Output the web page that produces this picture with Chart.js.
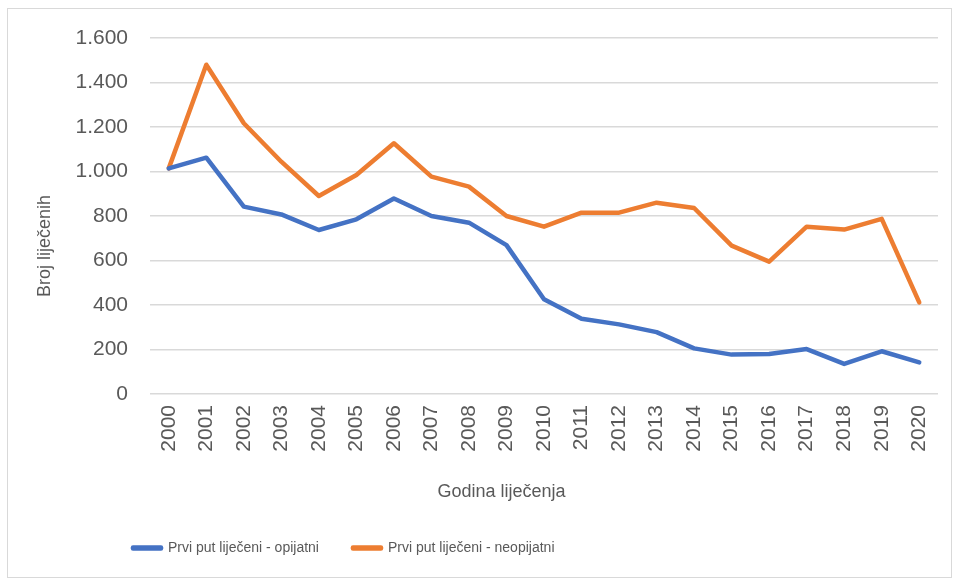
<!DOCTYPE html>
<html>
<head>
<meta charset="utf-8">
<script src="https://cdn.jsdelivr.net/npm/chart.js@4"></script>
<style>
  html, body { margin: 0; padding: 0; background: #fff; }
  #wrap {
    position: absolute; left: 7px; top: 8px;
    width: 943px; height: 568px;
    border: 1px solid #d9d9d9;
  }
</style>
</head>
<body>
<div id="wrap"><canvas id="chart" width="943" height="568"></canvas></div>
<script>
const years = ['2000', '2001', '2002', '2003', '2004', '2005', '2006', '2007', '2008', '2009', '2010',
  '2011', '2012', '2013', '2014', '2015', '2016', '2017', '2018', '2019', '2020'];
const opijatni = [1014, 1062, 842, 807, 737, 785, 879, 800, 770, 669, 426, 338, 313, 278, 205, 177, 180, 202, 135, 192, 142];
const neopijatni = [1014, 1480, 1217, 1044, 890, 984, 1127, 977, 932, 800, 752, 815, 815, 860, 836, 667, 595, 752, 739, 787, 412];
const seriesNames = ['Prvi put liječeni - opijatni', 'Prvi put liječeni - neopijatni'];

const grey = '#595959';
const sans = "'Liberation Sans', Arial, sans-serif";
const nb = (n) => '\u00A0'.repeat(n); // titles sit off-centre in the original

// move the legend to where the original has it
const legendSpot = {
  id: 'legendSpot',
  afterLayout(chart) {
    const lg = chart.legend;
    const dx = 91 - lg.left;
    lg.left += dx; lg.right += dx;
    const dy = 498 - lg.top;
    lg.top += dy; lg.bottom += dy;
  }
};

const line = (label, data, color) => ({
  label, data,
  borderColor: color,
  backgroundColor: color,
  borderWidth: 4.5,
  borderCapStyle: 'round',
  borderJoinStyle: 'round',
  pointRadius: 0,
  tension: 0
});

new Chart(document.getElementById('chart'), {
  type: 'line',
  data: {
    labels: years,
    datasets: [
      line(seriesNames[0], opijatni, '#4472C4'),
      line(seriesNames[1], neopijatni, '#ED7D31')
    ]
  },
  plugins: [legendSpot],
  options: {
    responsive: false,
    animation: false,
    layout: { padding: { top: 29, right: 13, left: 0, bottom: 5 } },
    plugins: {
      tooltip: { enabled: false },
      legend: {
        position: 'bottom',
        align: 'start',
        labels: {
          boxWidth: 28,
          boxHeight: 1,
          padding: 34,
          color: grey,
          font: { family: sans, size: 14 }
        }
      }
    },
    scales: {
      x: {
        offset: true,
        grid: { display: false, drawTicks: false },
        border: { display: false },
        ticks: {
          color: grey, font: { family: sans, size: 21 },
          minRotation: 90, maxRotation: 90, padding: 11, autoSkip: false
        },
        title: {
          display: true, text: 'Godina liječenja' + nb(17), color: grey,
          font: { family: sans, size: 18 }, padding: { top: 0, bottom: 11 }
        },
        afterFit: (s) => { s.height = 120; s.paddingLeft = 0; s.paddingRight = 0; }
      },
      y: {
        min: 0, max: 1600,
        grid: { color: '#d9d9d9', lineWidth: 1.5, drawTicks: false },
        border: { display: false },
        ticks: {
          stepSize: 200, color: grey, padding: 22,
          font: { family: sans, size: 21 },
          callback: (v) => String(v).replace(/\B(?=(\d{3})+(?!\d))/g, '.')
        },
        title: {
          display: true, text: 'Broj liječenih' + nb(12), color: grey,
          font: { family: sans, size: 18 }, padding: { top: 26, bottom: 0 }
        },
        afterFit: (s) => { s.width = 142; s.paddingTop = 0; s.paddingBottom = 0; }
      }
    }
  }
});
</script>
</body>
</html>
